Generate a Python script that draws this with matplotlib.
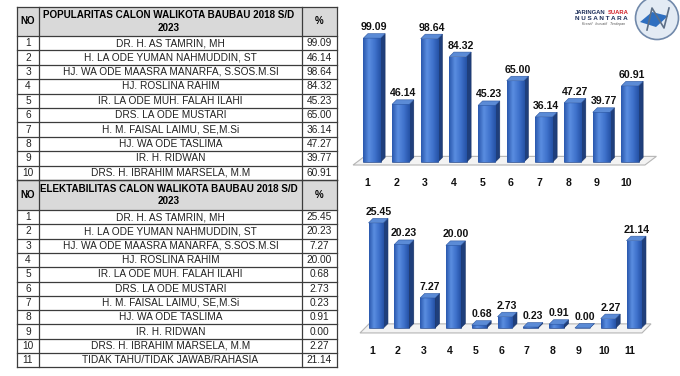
import matplotlib
matplotlib.use('Agg')
import matplotlib.pyplot as plt
from matplotlib.patches import Polygon, Rectangle, Circle
from matplotlib.colors import LinearSegmentedColormap
import numpy as np

W, H = 680, 376

# ---- data ----
calon = ['DR. H. AS TAMRIN, MH',
         'H. LA ODE YUMAN NAHMUDDIN, ST',
         'HJ. WA ODE MAASRA MANARFA, S.SOS.M.SI',
         'HJ. ROSLINA RAHIM',
         'IR. LA ODE MUH. FALAH ILAHI',
         'DRS. LA ODE MUSTARI',
         'H. M. FAISAL LAIMU, SE,M.Si',
         'HJ. WA ODE TASLIMA',
         'IR. H. RIDWAN',
         'DRS. H. IBRAHIM MARSELA, M.M']
lainnya = 'TIDAK TAHU/TIDAK JAWAB/RAHASIA'
popularitas = [99.09, 46.14, 98.64, 84.32, 45.23, 65.00, 36.14, 47.27, 39.77, 60.91]
elektabilitas = [25.45, 20.23, 7.27, 20.00, 0.68, 2.73, 0.23, 0.91, 0.00, 2.27, 21.14]
judul_pop = 'POPULARITAS CALON WALIKOTA BAUBAU 2018 S/D\n2023'
judul_ele = 'ELEKTABILITAS CALON WALIKOTA BAUBAU 2018 S/D\n2023'

plt.rcParams['font.family'] = ['Liberation Sans', 'DejaVu Sans']

fig = plt.figure(figsize=(6.8, 3.76), dpi=100)
fig.patch.set_facecolor('white')


def px_axes(x0, y0, x1, y1):
    return fig.add_axes([x0 / W, 1 - y1 / H, (x1 - x0) / W, (y1 - y0) / H])


# ---- table ----
tab = px_axes(0, 0, W, H)
tab.set_xlim(0, W)
tab.set_ylim(H, 0)
tab.axis('off')

cx = [17, 39, 302, 337]
line_c = '#3c3c3c'


def section(top, head_h, row_h, title, names, vals):
    tab.add_patch(Rectangle((cx[0], top), cx[3] - cx[0], head_h, fc='#d9d9d9', ec='none', zorder=1))
    mid = top + head_h / 2
    tab.text((cx[0] + cx[1]) / 2, mid, 'NO', ha='center', va='center', fontsize=7, fontweight='bold',
             family=['Liberation Sans Narrow', 'Liberation Sans'])
    tab.text((cx[1] + cx[2]) / 2 - 2, mid, title, ha='center', va='center', fontsize=7.1, fontweight='bold',
             linespacing=1.3, family=['Liberation Sans Narrow', 'Liberation Sans'])
    tab.text((cx[2] + cx[3]) / 2, mid, '%', ha='center', va='center', fontsize=7, fontweight='bold')
    y = top + head_h
    tab.plot([cx[0], cx[3]], [top, top], color=line_c, lw=0.9, zorder=3)
    tab.plot([cx[0], cx[3]], [y, y], color=line_c, lw=0.9, zorder=3)
    for i, (n, v) in enumerate(zip(names, vals)):
        yc = y + row_h * (i + 0.5)
        tab.text((cx[0] + cx[1]) / 2, yc, str(i + 1), ha='center', va='center', fontsize=7.3, color='#222222')
        tab.text((cx[1] + cx[2]) / 2, yc, n, ha='center', va='center', fontsize=7.3, color='#222222')
        tab.text((cx[2] + cx[3]) / 2, yc, '%.2f' % v, ha='center', va='center', fontsize=7.3, color='#222222')
        tab.plot([cx[0], cx[3]], [y + row_h * (i + 1)] * 2, color=line_c, lw=0.9, zorder=3)
    bottom = y + row_h * len(names)
    for x in cx:
        tab.plot([x, x], [top, bottom], color=line_c, lw=0.9, zorder=3)
    return bottom


b = section(7, 29, 14.4, judul_pop, calon, popularitas)
section(b, 30, 14.3, judul_ele, calon + [lainnya], elektabilitas)

# ---- pseudo 3D bar charts ----
front_cmap = LinearSegmentedColormap.from_list('front', ['#2a58ad', '#5a8de0', '#3f72cc', '#2552a6'])
grad = np.linspace(0, 1, 64).reshape(1, -1)


def bar_chart(vals, c1, pitch, base, scale, box, w, dpx, floor, lab_dy):
    x0, y0, x1, y1 = box
    ax = px_axes(x0, y0, x1, y1)
    ax.axis('off')
    dx, dy = dpx / pitch, dpx / scale
    xs = np.arange(1, len(vals) + 1)
    fl, fr, ff, fb, fd = floor
    ax.add_patch(Polygon([(fl, ff), (fr, ff), (fr + fd, fb), (fl + fd, fb)], closed=True,
                         fc='#f3f3f3', ec='#b5b5b5', lw=0.8, zorder=1))
    bars = ax.bar(xs, vals, width=w, color='#3566c0', edgecolor='#1d3f80', linewidth=0.4, zorder=3)
    for x, v, p in zip(xs, vals, bars):
        l, r = x - w / 2, x + w / 2
        if v > 0:
            im = ax.imshow(grad, extent=(l, r, 0, v), aspect='auto', cmap=front_cmap, zorder=3.1)
            im.set_clip_path(p)
        ax.add_patch(Polygon([(r, 0), (r + dx, dy), (r + dx, v + dy), (r, v)], closed=True,
                             fc='#1f3f7c', ec='#183265', lw=0.4, zorder=3))
        ax.add_patch(Polygon([(l, v), (l + dx, v + dy), (r + dx, v + dy), (r, v)], closed=True,
                             fc='#5b8bd6', ec='#2a55a0', lw=0.4, zorder=3.2))
        ax.text(x + dx / 2, v + dy + lab_dy / scale, '%.2f' % v, ha='center', va='bottom',
                fontsize=7.6, fontweight='bold', color='#111111', zorder=5)
        ax.text(x - 0.15, (base - box[3] + 9) / scale, str(x), ha='center', va='center',
                fontsize=7.6, fontweight='bold', color='#111111')
    ax.set_xlim(1 + (x0 - c1) / pitch, 1 + (x1 - c1) / pitch)
    ax.set_ylim((base - y1) / scale, (base - y0) / scale)
    return ax


bar_chart(popularitas, 372, 28.67, 162, 1.25, (340, 10, 676, 192), 0.6, 4.5,
          (0.34, 10.52, -2.4, 4.5, 0.4), 1.5)
bar_chart(elektabilitas, 376, 25.8, 328, 4.13, (340, 200, 676, 360), 0.58, 4.5,
          (0.38, 11.31, -1.2, 1.0, 0.35), 1.5)

# ---- logo ----
logo = px_axes(0, 0, W, H)
logo.set_xlim(0, W)
logo.set_ylim(H, 0)
logo.axis('off')
logo.add_patch(Circle((657, 18), 21.5, fc='#e3ebf4', ec='#7189aa', lw=1.2))
logo.add_patch(Polygon([(640, 22), (652, 12), (668, 16), (656, 27)], closed=True, fc='#2f6fc0', ec='none'))
logo.plot([647, 652, 664, 669], [30, 8, 28, 8], color='#5d6f86', lw=1.2)
logo.text(575, 12, 'JARINGAN', fontsize=4.2, fontweight='bold', color='#1d2f5a', va='center')
logo.text(608, 12, 'SUARA', fontsize=4.2, fontweight='bold', color='#d21f26', va='center')
logo.text(575, 18.5, 'N U S A N T A R A', fontsize=4.6, fontweight='bold', color='#1d2f5a', va='center')
logo.text(582, 24, 'Kreatif   Inovatif   Terdepan', fontsize=2.6, color='#555555', va='center', style='italic')

fig.savefig('out.png', dpi=100)
